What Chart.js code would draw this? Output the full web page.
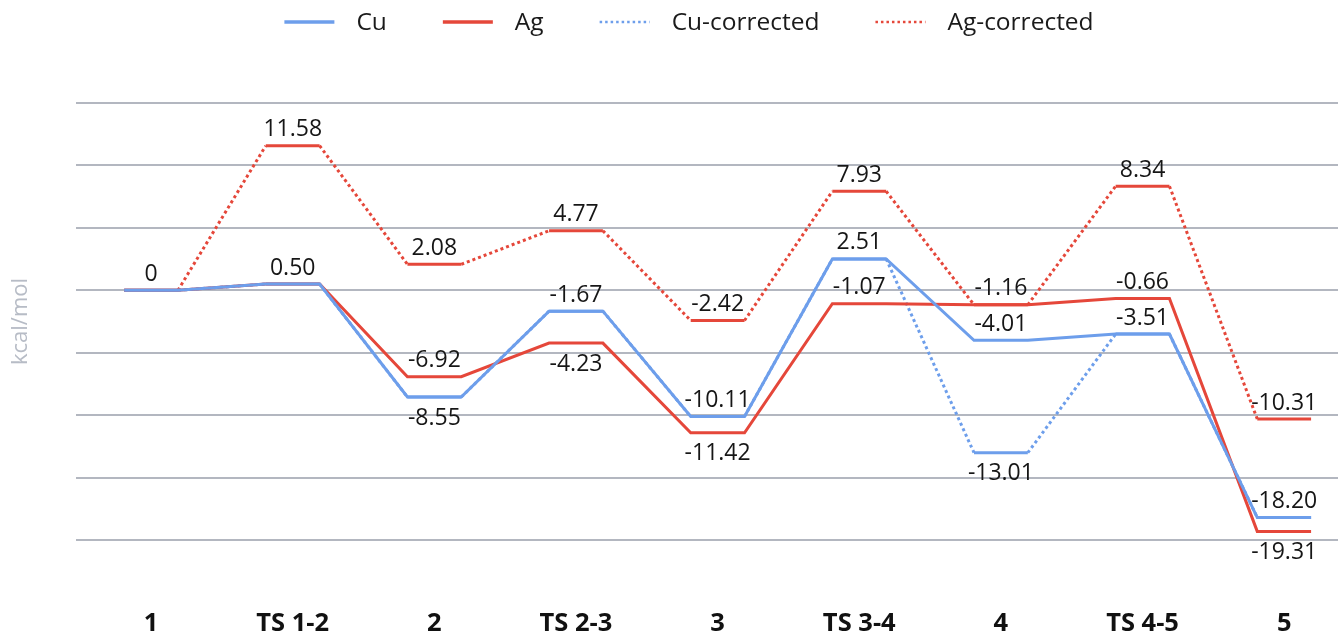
<!DOCTYPE html>
<html><head><meta charset="utf-8">
<script src="https://cdn.jsdelivr.net/npm/chart.js@4.4.1/dist/chart.umd.min.js"></script>
<style>html,body{margin:0;padding:0;background:#fff;}</style>
</head><body>
<canvas id="c" width="1338" height="635"></canvas>
<script>
// ---- data ----
const categories = ['1', 'TS 1-2', '2', 'TS 2-3', '3', 'TS 3-4', '4', 'TS 4-5', '5'];
const cu          = [0, 0.50, -8.55, -1.67, -10.11, 2.51, -4.01, -3.51, -18.20];
const ag          = [0, 0.50, -6.92, -4.23, -11.42, -1.07, -1.16, -0.66, -19.31];
const cuCorrected = [0, 0.50, -8.55, -1.67, -10.11, 2.51, -13.01, -3.51, -18.20];
const agCorrected = [0, 11.58, 2.08, 4.77, -2.42, 7.93, -1.16, 8.34, -10.31];
const yTicks = [15, 10, 5, 0, -5, -10, -15, -20];

// label placement (a = above, b = below, null = none)
const cuSides   = ['a','a','b','a','a','a','a','a','a'];
const agSides   = [null,null,'a','b','b','a',null,'a','b'];
const cuCSides  = [null,null,null,null,null,null,'b',null,null];
const agCSides  = [null,'a','a','a','a','a','a','a','a'];

const BLUE = '#6d9eeb', RED = '#e5473a';
const HALF = 0.19;
function steps(vals) {
  const pts = [];
  vals.forEach((v, i) => { pts.push({x: i - HALF, y: v}); pts.push({x: i + HALF, y: v}); });
  return pts;
}
const plateauSolid = { borderDash: ctx => (ctx.p0DataIndex % 2 === 0 ? [] : undefined) };

const FONT = '"Open Sans", "Noto Sans", sans-serif';

const valueLabels = {
  id: 'valueLabels',
  afterDatasetsDraw(chart) {
    const ctx = chart.ctx, xs = chart.scales.x, ys = chart.scales.y;
    ctx.save();
    ctx.font = '23px ' + FONT;
    ctx.fillStyle = '#161616';
    ctx.textAlign = 'center';
    ctx.textBaseline = 'middle';
    chart.data.datasets.forEach(ds => {
      ds.values.forEach((v, i) => {
        const side = ds.sides[i];
        if (!side) return;
        const x = xs.getPixelForValue(i), y = ys.getPixelForValue(v);
        const txt = v === 0 ? '0' : v.toFixed(2);
        ctx.fillText(txt, x, y + (side === 'a' ? -16 : 21));
      });
    });
    ctx.restore();
  }
};

const customLegend = {
  id: 'customLegend',
  afterDraw(chart) {
    const ctx = chart.ctx;
    ctx.save();
    ctx.font = '24.5px ' + FONT;
    const sample = 50, gap1 = 22, gap2 = 56;
    const items = chart.data.datasets.map(ds => ({ds, w: ctx.measureText(ds.label).width}));
    const total = items.reduce((s, it) => s + sample + gap1 + it.w, 0) + gap2 * (items.length - 1);
    let x = chart.width / 2 + 20 - total / 2;
    const y = 22;
    items.forEach(it => {
      const dotted = it.ds.borderDash && it.ds.borderDash.length;
      ctx.beginPath();
      ctx.strokeStyle = it.ds.borderColor;
      ctx.lineWidth = dotted ? 2.5 : 3.5;
      ctx.setLineDash(dotted ? [2.5, 3] : []);
      ctx.moveTo(x, y); ctx.lineTo(x + sample, y);
      ctx.stroke();
      ctx.setLineDash([]);
      ctx.fillStyle = '#1a1a1a';
      ctx.textAlign = 'left';
      ctx.textBaseline = 'middle';
      ctx.fillText(it.ds.label, x + sample + gap1, y + 1);
      x += sample + gap1 + it.w + gap2;
    });
    ctx.restore();
  }
};

new Chart(document.getElementById('c'), {
  type: 'line',
  data: {
    datasets: [
      { label: 'Cu', data: steps(cu), values: cu, sides: cuSides,
        borderColor: BLUE, borderWidth: 3, order: 1 },
      { label: 'Ag', data: steps(ag), values: ag, sides: agSides,
        borderColor: RED, borderWidth: 3, order: 2 },
      { label: 'Cu-corrected', data: steps(cuCorrected), values: cuCorrected, sides: cuCSides,
        borderColor: BLUE, borderWidth: 3, borderDash: [3, 3], segment: plateauSolid, order: 3 },
      { label: 'Ag-corrected', data: steps(agCorrected), values: agCorrected, sides: agCSides,
        borderColor: RED, borderWidth: 3, borderDash: [3, 3], segment: plateauSolid, order: 4 }
    ]
  },
  options: {
    responsive: false,
    animation: false,
    devicePixelRatio: 1,
    layout: { padding: { top: 103, right: 0, left: 0, bottom: 0 } },
    elements: { point: { radius: 0, hoverRadius: 0 }, line: { tension: 0, borderJoinStyle: 'miter', borderCapStyle: 'butt' } },
    plugins: { legend: { display: false }, tooltip: { enabled: false } },
    scales: {
      x: {
        type: 'linear', min: -0.53, max: 8.38,
        afterBuildTicks: s => { s.ticks = categories.map((c, i) => ({ value: i })); },
        afterFit: s => { s.height = 95; },
        grid: { display: false, drawTicks: true, tickLength: 64 },
        border: { display: false },
        ticks: {
          autoSkip: false, maxRotation: 0, padding: 4,
          color: '#111', font: { family: FONT, size: 25.5, weight: 'bold' },
          callback: v => categories[v]
        }
      },
      y: {
        min: -20, max: 15,
        afterBuildTicks: s => { s.ticks = yTicks.map(v => ({ value: v })); },
        afterFit: s => { s.width = 76; },
        grid: { color: '#b3b7c0', lineWidth: 2, drawTicks: false },
        border: { display: false },
        ticks: { display: false },
        title: { display: true, text: 'kcal/mol', color: '#b7bcc6', font: { family: FONT, size: 22 }, padding: { top: 8, bottom: 0 } }
      }
    }
  },
  plugins: [valueLabels, customLegend]
});
</script>
</body></html>
